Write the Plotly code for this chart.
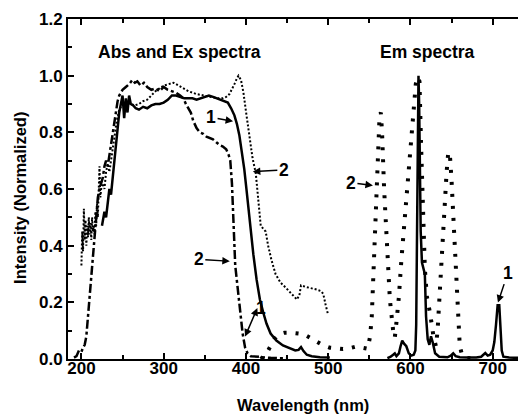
import plotly.graph_objects as go

# ---------------- data ----------------
# curve 1 (solid) : excitation spectrum 1
wl_ex1 = [225, 228, 230, 232, 234, 236, 238, 240, 242, 244,
          246, 248, 250, 252, 254, 256, 258, 260, 263, 266,
          270, 275, 280, 285, 290, 295, 300, 305, 310, 315,
          320, 325, 330, 335, 340, 345, 350, 355, 360, 365,
          370, 375, 378, 382, 386, 389, 392, 395, 398, 401,
          405, 409, 413, 417, 421, 425, 430, 437, 445, 453,
          460, 464, 467, 470, 474, 480, 490, 502]
int_ex1 = [0.47, 0.52, 0.50, 0.56, 0.60, 0.58, 0.64, 0.70, 0.76, 0.82,
           0.87, 0.90, 0.93, 0.85, 0.92, 0.87, 0.93, 0.90, 0.895, 0.885,
           0.88, 0.89, 0.885, 0.895, 0.90, 0.90, 0.905, 0.915, 0.93, 0.93,
           0.925, 0.92, 0.92, 0.92, 0.915, 0.92, 0.925, 0.93, 0.925, 0.92,
           0.915, 0.91, 0.905, 0.885, 0.86, 0.83, 0.79, 0.73, 0.67, 0.59,
           0.47, 0.37, 0.28, 0.21, 0.165, 0.125, 0.09, 0.065, 0.048, 0.038,
           0.030, 0.032, 0.042, 0.028, 0.015, 0.010, 0.006, 0.005]

# curve 2 (dash-dot) : absorption spectrum
wl_abs = [191, 194, 197, 200, 202, 204, 206, 208, 210, 212,
          214, 216, 218, 220, 222, 224, 226, 228, 230, 232,
          234, 236, 238, 240, 242, 244, 246, 248, 250, 254,
          258, 262, 265, 268, 272, 276, 280, 285, 290, 295,
          300, 305, 310, 315, 320, 324, 327, 330, 333, 336,
          340, 344, 348, 352, 356, 360, 364, 368, 372, 376,
          379, 381, 383, 385, 387, 390, 393, 396, 399, 402,
          406, 412, 420, 430, 440, 450]
int_abs = [0.005, 0.01, 0.03, 0.025, 0.04, 0.05, 0.08, 0.15, 0.24, 0.32,
           0.39, 0.45, 0.52, 0.57, 0.60, 0.62, 0.64, 0.68, 0.70, 0.68,
           0.72, 0.76, 0.80, 0.84, 0.88, 0.91, 0.93, 0.94, 0.95, 0.96,
           0.97, 0.985, 0.975, 0.98, 0.965, 0.975, 0.96, 0.95, 0.955, 0.945,
           0.96, 0.95, 0.945, 0.94, 0.93, 0.92, 0.90, 0.885, 0.87, 0.84,
           0.815, 0.80, 0.795, 0.785, 0.78, 0.775, 0.765, 0.755, 0.75, 0.74,
           0.72, 0.70, 0.62, 0.45, 0.33, 0.25, 0.17, 0.09, 0.04, 0.02,
           0.01, 0.008, 0.005, 0.004, 0.003, 0.003]

# curve 2 (fine dots) : excitation spectrum 2
wl_ex2 = [200, 201, 202, 203, 204, 205, 206, 207, 208, 209,
          210, 211, 212, 213, 214, 215, 216, 217, 218, 219,
          220, 221, 222, 223, 224, 226, 228, 230, 232, 234,
          236, 238, 240, 243, 246, 250, 255, 260, 265, 270,
          275, 280, 285, 290, 295, 300, 306, 312, 318, 324,
          330, 340, 350, 360, 366, 372, 376, 380, 383, 386,
          389, 391, 394, 397, 400, 404, 408, 412, 414, 416,
          418, 421, 424, 427, 431, 436, 442, 449, 455, 462,
          465, 467, 472, 480, 486, 491, 494, 497, 500]
int_ex2 = [0.33, 0.45, 0.38, 0.53, 0.42, 0.49, 0.40, 0.47, 0.43, 0.50,
           0.44, 0.48, 0.42, 0.50, 0.45, 0.47, 0.44, 0.52, 0.47, 0.55,
           0.50, 0.58, 0.68, 0.57, 0.60, 0.62, 0.60, 0.66, 0.69, 0.66,
           0.70, 0.74, 0.78, 0.84, 0.88, 0.90, 0.91, 0.90, 0.895, 0.90,
           0.91, 0.915, 0.93, 0.945, 0.955, 0.965, 0.97, 0.975, 0.965, 0.955,
           0.945, 0.935, 0.93, 0.925, 0.92, 0.92, 0.925, 0.935, 0.95, 0.97,
           0.99, 1.0, 0.985, 0.94, 0.875, 0.79, 0.71, 0.655, 0.60, 0.52,
           0.47, 0.46, 0.45, 0.40, 0.35, 0.30, 0.27, 0.25, 0.23, 0.21,
           0.225, 0.26, 0.255, 0.25, 0.245, 0.24, 0.23, 0.19, 0.155]

# curve 2 (large dots) : emission spectrum 2
wl_em2 = [418, 422, 426, 430, 435, 440, 447, 455, 462, 470,
          478, 486, 494, 502, 510, 518, 526, 534, 541, 548,
          551, 553, 555, 557, 559, 561, 562.5, 564, 565.5, 568,
          571, 575, 579, 581, 583, 586, 589, 593, 598.5, 603,
          606.5, 609, 611, 613, 615, 617.5, 620, 624, 628, 631,
          633, 636, 638, 640, 642, 644, 646, 648, 650, 653,
          656, 658, 660, 663, 668, 675]
int_em2 = [0.0, 0.01, 0.025, 0.045, 0.072, 0.088, 0.093, 0.093, 0.092, 0.088,
           0.075, 0.062, 0.048, 0.040, 0.036, 0.035, 0.038, 0.044, 0.040, 0.036,
           0.08, 0.15, 0.30, 0.45, 0.62, 0.76, 0.86, 0.87, 0.80, 0.60,
           0.45, 0.21, 0.10, 0.075, 0.13, 0.22, 0.35, 0.50, 0.71, 0.88,
           0.97, 0.995, 0.98, 0.75, 0.50, 0.32, 0.22, 0.16, 0.08, 0.045,
           0.10, 0.27, 0.36, 0.445, 0.56, 0.66, 0.73, 0.72, 0.63, 0.445,
           0.233, 0.13, 0.045, 0.012, 0.004, 0.002]

# curve 1 (solid) : emission spectrum 1
wl_em1 = [572, 576, 579, 581, 583, 586, 588, 590, 592, 595,
          598, 601, 604, 606, 607, 608, 609, 609.8, 610.6, 611.5,
          612.5, 614, 616, 617.5, 619, 621, 623, 625, 627, 630,
          635, 645, 649, 652, 655, 660, 670, 680, 686, 689,
          691, 694, 697, 700, 702, 704, 706, 708, 709.5, 711,
          713, 720, 730, 740]
int_em1 = [0.003, 0.008, 0.015, 0.02, 0.01, 0.02, 0.045, 0.065, 0.055, 0.045,
           0.02, 0.012, 0.015, 0.03, 0.12, 0.45, 0.85, 1.0, 0.90, 0.65,
           0.45, 0.34, 0.32, 0.30, 0.15, 0.07, 0.05, 0.08, 0.06, 0.02,
           0.008, 0.006, 0.012, 0.02, 0.01, 0.006, 0.005, 0.005, 0.008, 0.018,
           0.021, 0.012, 0.015, 0.03, 0.06, 0.12, 0.19, 0.19, 0.12, 0.03,
           0.008, 0.005, 0.004, 0.004]

for a, b in [(wl_ex1, int_ex1), (wl_abs, int_abs), (wl_ex2, int_ex2),
             (wl_em2, int_em2), (wl_em1, int_em1)]:
    assert len(a) == len(b), (len(a), len(b))

x_tick_vals = [200, 300, 400, 500, 600, 700]
x_tick_text = ["200", "300", "400", "500", "600", "700"]
y_tick_vals = [0.0, 0.2, 0.4, 0.6, 0.8, 1.0, 1.2]
y_tick_text = ["0.0", "0.2", "0.4", "0.6", "0.8", "1.0", "1.2"]

FONT = "Liberation Sans, Arial, sans-serif"

# ---------------- figure ----------------
fig = go.Figure()
fig.add_trace(go.Scatter(x=wl_abs, y=int_abs, mode="lines",
                         line=dict(color="black", width=2.5, dash="9px,3px,3px,3px")))
fig.add_trace(go.Scatter(x=wl_ex2, y=int_ex2, mode="lines",
                         line=dict(color="black", width=2, dash="2px,2px")))
fig.add_trace(go.Scatter(x=wl_em2, y=int_em2, mode="lines",
                         line=dict(color="black", width=4, dash="3px,9px")))
fig.add_trace(go.Scatter(x=wl_ex1, y=int_ex1, mode="lines",
                         line=dict(color="black", width=2.5)))
fig.add_trace(go.Scatter(x=wl_em1, y=int_em1, mode="lines",
                         line=dict(color="black", width=2.5)))

bold = dict(family=FONT, size=17.5, color="black", weight="bold")
titlebold = dict(family=FONT, size=16.5, color="black", weight="bold")
tickbold = dict(family=FONT, size=17, color="black", weight="bold")

# the page body adds an 8px offset, so the figure is sized/margined to compensate
fig.update_layout(
    width=518, height=410,
    margin=dict(l=60, r=0, t=11, b=59),
    plot_bgcolor="white", paper_bgcolor="white",
    showlegend=False,
    font=dict(family=FONT, size=17, color="black"),
    xaxis=dict(
        range=[183.7, 740.5], automargin=False,
        tickmode="array", tickvals=x_tick_vals, ticktext=x_tick_text,
        ticks="inside", ticklen=6, tickwidth=1.5, tickcolor="black",
        showline=True, linewidth=2, linecolor="black", mirror="ticks",
        showgrid=False, zeroline=False,
        minor=dict(ticks="inside", ticklen=4, tickwidth=1.5, tickcolor="black",
                   tick0=200, dtick=50, showgrid=False),
        tickfont=tickbold, ticklabelstandoff=-7,
    ),
    yaxis=dict(
        range=[0, 1.2], automargin=False,
        tickmode="array", tickvals=y_tick_vals, ticktext=y_tick_text,
        ticks="inside", ticklen=6, tickwidth=1.5, tickcolor="black",
        showline=True, linewidth=2, linecolor="black", mirror=False,
        showgrid=False, zeroline=False,
        minor=dict(ticks="inside", ticklen=4, tickwidth=1.5, tickcolor="black",
                   tick0=0, dtick=0.1, showgrid=False),
        tickfont=tickbold,
    ),
)

arrow = dict(showarrow=True, arrowhead=2, arrowsize=1, arrowwidth=1.5,
             arrowcolor="black", font=bold)

anns = [
    # axis titles
    dict(xref="paper", yref="paper", x=0.513, y=-0.135, text="Wavelength (nm)",
         showarrow=False, font=titlebold, xanchor="center", yanchor="middle"),
    dict(xref="paper", yref="paper", x=-0.105, y=0.4735, text="Intensity (Normalized)",
         showarrow=False, font=titlebold, textangle=-90, xanchor="center", yanchor="middle"),
    # panel labels
    dict(x=319, y=1.085, text="Abs and Ex spectra", showarrow=False, font=bold),
    dict(x=621.3, y=1.085, text="Em spectra", showarrow=False, font=bold),
    # curve labels
    dict(x=384.4, y=0.839, text="1", ax=-22, ay=-4, **arrow),
    dict(x=408.4, y=0.661, text="2", ax=31, ay=-2, **arrow),
    dict(x=380.4, y=0.345, text="2", ax=-31, ay=-2, **arrow),
    dict(x=554.4, y=0.612, text="2", ax=-22, ay=-3, **arrow),
    dict(x=706.4, y=0.199, text="1", ax=10, ay=-30, **arrow),
    dict(x=398.9, y=0.079, ax=414.7, ay=0.185, axref="x", ayref="y",
         text="", showarrow=True, arrowhead=2, startarrowhead=2, arrowside="end+start",
         arrowsize=1, arrowwidth=1.5, arrowcolor="black"),
    dict(x=418.5, y=0.18, text="1", showarrow=False, font=bold),
]
fig.update_layout(annotations=anns)

fig.write_html("out.html")
